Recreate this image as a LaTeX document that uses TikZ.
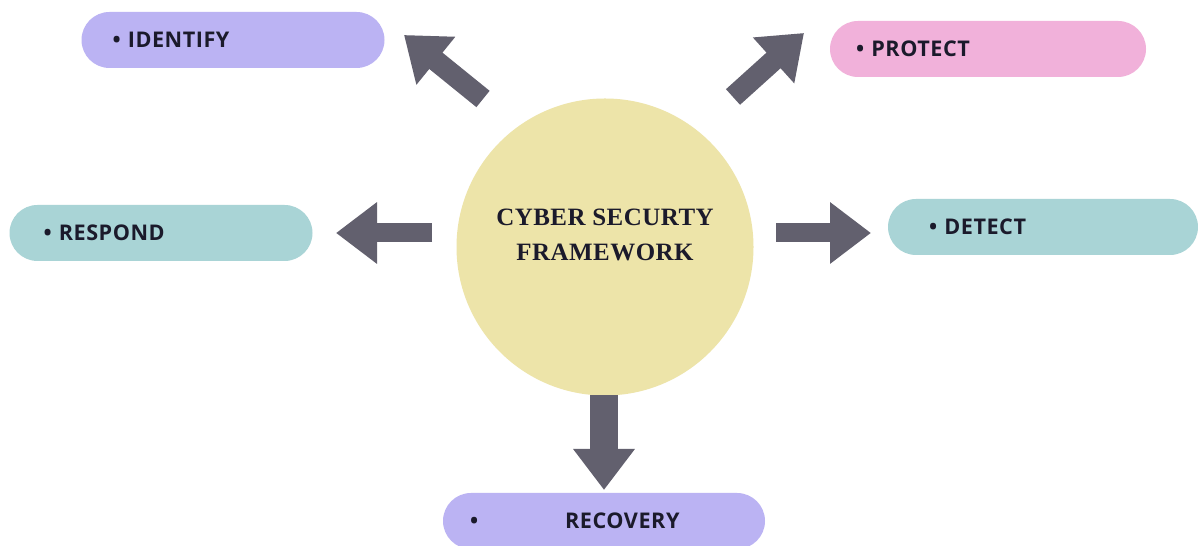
\documentclass[tikz,border=0pt]{standalone}
\usepackage{fontspec}
\setmainfont{Liberation Serif}
\newfontfamily\labelfont[LetterSpace=2.5]{Open Sans}
\newfontfamily\hubfont[LetterSpace=2]{Liberation Serif}
\usetikzlibrary{arrows.meta}

\definecolor{lavender}{HTML}{BBB3F3}
\definecolor{pinkbox}{HTML}{F1B1DA}
\definecolor{tealbox}{HTML}{A9D4D6}
\definecolor{sand}{HTML}{EDE4A9}
\definecolor{arrowgray}{HTML}{62606E}
\definecolor{ink}{HTML}{1B1A2B}

\begin{document}
\begin{tikzpicture}[
    pill/.style={rounded corners=0.56cm, minimum height=1.12cm, inner ysep=0pt,
                 align=left, text=ink,
                 font=\labelfont\bfseries\fontsize{12.3}{13}\selectfont},
    hub/.style={circle, fill=sand, minimum size=5.94cm},
    title/.style={align=center, text=ink,
                  font=\hubfont\bfseries\fontsize{14.2}{20}\selectfont},
    bigarrow/.style={draw=arrowgray, line width=0.42cm,
                     -{Triangle[width=1.18cm, length=0.82cm]}},
]

    \useasboundingbox (0, 0) rectangle (23.96, 10.92);
    \fill[white] (0, 0) rectangle (23.96, 10.92);

    \node[hub] (hub) at (12.10, 5.98) {};
    \node[title] (hubtitle) at (12.10, 6.22) {CYBER SECURTY\\FRAMEWORK};

    \node[pill, fill=lavender, inner xsep=0.62cm, text width=4.82cm] (identify)
        at (4.66, 10.12) {• IDENTIFY};
    \node[pill, fill=pinkbox, inner xsep=0.52cm, text width=5.28cm] (protect)
        at (19.76, 9.94) {• PROTECT};
    \node[pill, fill=tealbox, inner xsep=0.68cm, text width=4.70cm] (respond)
        at (3.22, 6.26) {• RESPOND};
    \node[pill, fill=tealbox, inner xsep=0.82cm, text width=4.56cm] (detect)
        at (20.86, 6.38) {• DETECT};
    \node[pill, fill=lavender, inner xsep=0.54cm, text width=5.36cm] (recovery)
        at (12.08, 0.50) {•\hspace{1.74cm}RECOVERY};

    % arrow ends between the hub and the boxes
    \coordinate (idtail) at (9.66, 8.94);
    \coordinate (idtip) at (8.08, 10.22);
    \coordinate (prtail) at (14.66, 8.98);
    \coordinate (prtip) at (16.08, 10.26);
    \coordinate (retail) at (8.64, 6.26);
    \coordinate (retip) at (6.72, 6.26);
    \coordinate (detail) at (15.52, 6.26);
    \coordinate (detip) at (17.42, 6.26);
    \coordinate (rctail) at (12.08, 3.02);
    \coordinate (rctip) at (12.08, 1.12);

    \draw[bigarrow] (idtail) -- (idtip);
    \draw[bigarrow] (prtail) -- (prtip);
    \draw[bigarrow, line width=0.38cm] (retail) -- (retip);
    \draw[bigarrow, line width=0.38cm] (detail) -- (detip);
    \draw[bigarrow, line width=0.56cm] (rctail) -- (rctip);
\end{tikzpicture}
\end{document}
